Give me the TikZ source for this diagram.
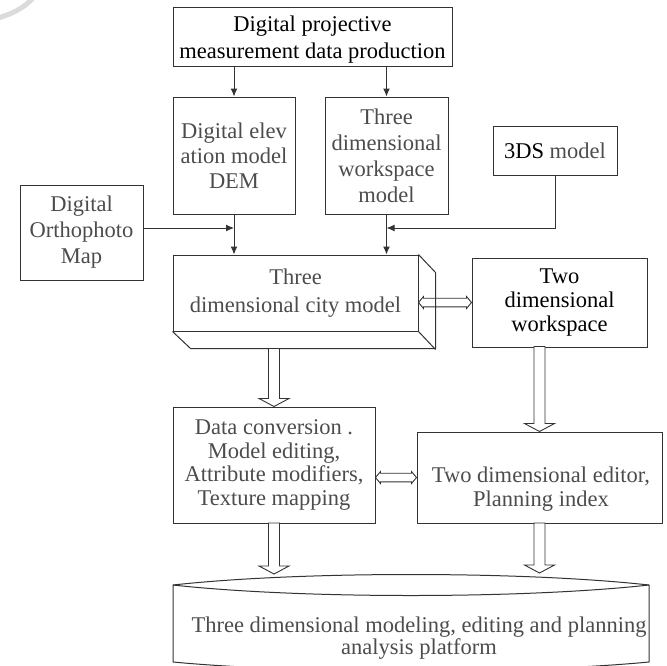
\documentclass[tikz,border=0pt]{standalone}
\usepackage{fontspec}
\setmainfont{Liberation Serif}
\usetikzlibrary{arrows.meta,calc}
\newcommand\dnblock[2]{\draw[blk] (#1) -- ++(-15,-8) -- ++(9.5,0) -- ++(0,-#2) -- ++(11,0) -- ++(0,#2) -- ++(9.5,0) -- cycle;}
\newcommand\hdarrow[2]{\draw[dbl] let \p1=(#1), \p2=(#2) in (\x1,\y1) -- (\x1+5pt,\y1+6pt) -- (\x1+5pt,\y1+4.3pt) -- (\x2-5pt,\y2+4.3pt) -- (\x2-5pt,\y2+6pt) -- (\x2,\y2) -- (\x2-5pt,\y2-6pt) -- (\x2-5pt,\y2-4.3pt) -- (\x1+5pt,\y1-4.3pt) -- (\x1+5pt,\y1-6pt) -- cycle;}
\begin{document}
\begin{tikzpicture}[x=1pt,y=-1pt,
  ln/.style={draw=black!80, line width=1pt},
  box/.style={ln, rectangle, inner sep=0pt, align=center, text=black!70},
  txt/.style={inner sep=0pt, align=center, text=black!70},
  conn/.style={draw=black!80, line width=1pt, -{Latex[length=8pt,width=7pt]}},
  blk/.style={draw=black!80, line width=0.9pt, fill=white, line join=miter},
  dbl/.style={draw=black!80, line width=0.9pt, line join=miter},
]
\useasboundingbox (0,0) rectangle (667,665);
% watermark remnant
\draw[black!14, line width=5pt] (-2,18) .. controls (12,14) and (24,8) .. (33,-2);

% boxes
\node[box, minimum width=279pt, minimum height=59pt] (top) at (312.5,36.5) {};
\node[txt, text=black, font=\fontsize{22.5}{27}\selectfont] (topt) at (312.5,40) {Digital projective\\measurement data production};
\node[box, minimum width=122pt, minimum height=117pt, font=\fontsize{22.5}{25}\selectfont] (dem) at (234,155.5) {Digital elev\\ation model\\DEM};
\node[box, minimum width=123pt, minimum height=117pt, font=\fontsize{22.5}{26}\selectfont] (ws3) at (386.5,155.5) {Three\\dimensional\\workspace\\model};
\node[box, minimum width=124pt, minimum height=49pt, font=\fontsize{22.5}{26}\selectfont] (ds3) at (555,150.5) {\textcolor{black}{3DS} model};
\node[box, minimum width=123pt, minimum height=95pt, font=\fontsize{22.5}{26}\selectfont] (ortho) at (81.5,232.5) {Digital\\Orthophoto\\Map};
\node[box, minimum width=245pt, minimum height=76pt, font=\fontsize{22.5}{28}\selectfont] (city) at (295.5,293) {Three\\dimensional city model};
\node[box, minimum width=175pt, minimum height=89pt, text=black, font=\fontsize{22.5}{24}\selectfont] (ws2) at (559.5,302.5) {Two\\dimensional\\workspace};
\node[box, minimum width=202pt, minimum height=116pt, font=\fontsize{22.5}{23.5}\selectfont] (dc) at (274,465) {Data conversion .\\Model editing,\\Attribute modifiers,\\Texture mapping};
\node[box, minimum width=245pt, minimum height=91pt] (ed2) at (539.5,477.5) {};
\node[txt, font=\fontsize{22.5}{24}\selectfont] (ed2t) at (541,489) {Two dimensional editor,\\Planning index};

% 3D extrusion of city box
\draw[ln] (city.north east) -- ++(17,18) -- ++(0,76) -- ++(-245,0) -- (city.south west);
\draw[ln] (city.south east) -- ++(17,18);

% platform shape
\draw[ln] (173,585) .. controls (300,571) and (522,571) .. (649,585) -- (649,662)
  .. controls (522,674) and (300,674) .. (173,662) -- cycle;
\draw[ln] (173,585) .. controls (300,599) and (522,599) .. (649,585);
\node[txt, font=\fontsize{22.5}{22}\selectfont] (plat) at (419,638) {Three dimensional modeling, editing and planning\\analysis platform};

% thin connectors
\coordinate (oy) at (0,228);
\draw[conn] (top.south -| dem.north) -- (dem.north);
\draw[conn] (top.south -| ws3.north) -- (ws3.north);
\draw[conn] (dem.south) -- (dem.south |- city.north);
\draw[conn] (ws3.south) -- (ws3.south |- city.north);
\draw[conn] (ortho.east |- oy) -- (dem.south |- oy);
\draw[conn] (ds3.south) -- (ds3.south |- oy) -- (ws3.south |- oy);

% block arrows
\coordinate (t1) at (274,574);
\coordinate (t2) at (539.5,573);
\dnblock{dc.north}{50}
\dnblock{ed2.north}{77}
\dnblock{t1}{43}
\dnblock{t2}{42}

% double arrows
\hdarrow{city.east |- ws2.center}{ws2.west}
\hdarrow{dc.east |- ed2.center}{ed2.west}
\end{tikzpicture}
\end{document}
